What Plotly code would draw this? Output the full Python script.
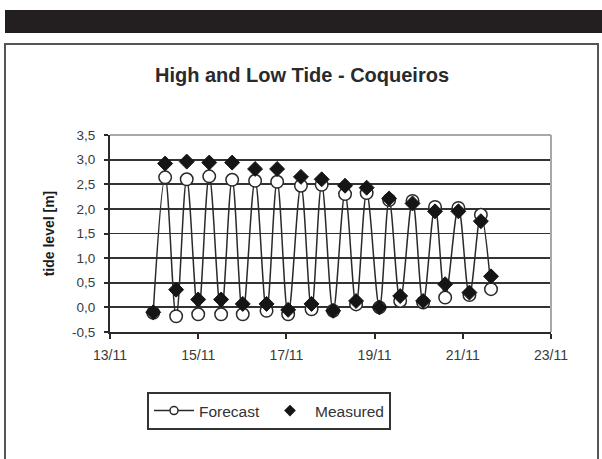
import plotly.graph_objects as go

# ---- data (days of November) ----
forecast_day = [13.98, 14.25, 14.50, 14.74, 15.00, 15.25, 15.52, 15.77, 16.01, 16.29,
                16.55, 16.79, 17.04, 17.33, 17.57, 17.80, 18.06, 18.33, 18.58, 18.82,
                19.11, 19.33, 19.58, 19.86, 20.10, 20.37, 20.60, 20.90, 21.15, 21.41, 21.64]
forecast_level = [-0.11, 2.64, -0.18, 2.60, -0.14, 2.66, -0.14, 2.59, -0.14, 2.57,
                  -0.07, 2.55, -0.14, 2.47, -0.04, 2.49, -0.07, 2.30, 0.06, 2.32,
                  0.00, 2.18, 0.13, 2.16, 0.10, 2.04, 0.20, 2.02, 0.25, 1.88, 0.37]
measured_day = [13.98, 14.25, 14.50, 14.74, 15.00, 15.25, 15.52, 15.77, 16.01, 16.29,
                16.55, 16.79, 17.04, 17.33, 17.57, 17.80, 18.06, 18.33, 18.58, 18.82,
                19.11, 19.33, 19.58, 19.86, 20.10, 20.37, 20.60, 20.90, 21.15, 21.41, 21.64]
measured_level = [-0.10, 2.92, 0.36, 2.96, 0.16, 2.94, 0.16, 2.94, 0.07, 2.81,
                  0.07, 2.81, -0.05, 2.65, 0.07, 2.60, -0.07, 2.47, 0.13, 2.43,
                  0.00, 2.21, 0.23, 2.11, 0.13, 1.95, 0.47, 1.95, 0.30, 1.75, 0.63]

x_tick_vals = [13, 15, 17, 19, 21, 23]
x_tick_text = ["13/11", "15/11", "17/11", "19/11", "21/11", "23/11"]
y_tick_vals = [-0.5, 0.0, 0.5, 1.0, 1.5, 2.0, 2.5, 3.0, 3.5]
y_tick_text = ["-0,5", "0,0", "0,5", "1,0", "1,5", "2,0", "2,5", "3,0", "3,5"]

W, H = 602, 459
L, R, T, B = 110, 51, 135, 127
pw, ph = W - L - R, H - T - B


def px(x):
    return (x - L) / pw


def py(y):
    return (H - B - y) / ph


FONT = "Liberation Sans, Arial, sans-serif"
DARK = "#2a2a2a"

fig = go.Figure()
fig.add_trace(go.Scatter(
    x=forecast_day, y=forecast_level, name="Forecast", showlegend=False,
    mode="lines+markers",
    line=dict(color=DARK, width=1.5, shape="spline", smoothing=1.0),
    marker=dict(symbol="circle", size=12.5, color="white",
                line=dict(color=DARK, width=1.5)),
))
fig.add_trace(go.Scatter(
    x=measured_day, y=measured_level, name="Measured", showlegend=False,
    mode="markers",
    marker=dict(symbol="diamond", size=11.5, color="#151515",
                line=dict(color="#151515", width=1)),
))
# legend entries (smaller symbols as in the reference legend)
fig.add_trace(go.Scatter(
    x=[None], y=[None], name="Forecast", mode="lines+markers",
    line=dict(color=DARK, width=1.5),
    marker=dict(symbol="circle", size=8, color="white", line=dict(color=DARK, width=1.5)),
))
fig.add_trace(go.Scatter(
    x=[None], y=[None], name="Measured", mode="markers",
    marker=dict(symbol="diamond", size=9, color="#151515"),
))

shapes = [
    dict(type="rect", xref="paper", yref="paper",
         x0=px(5), x1=px(603), y0=py(33), y1=py(10),
         fillcolor="#231f20", line=dict(width=0), layer="above"),
    dict(type="rect", xref="paper", yref="paper",
         x0=px(5), x1=px(598), y0=py(470), y1=py(44),
         fillcolor="rgba(0,0,0,0)", line=dict(color="#555555", width=2), layer="below"),
    dict(type="line", xref="paper", yref="paper", x0=0, x1=1, y0=1, y1=1,
         line=dict(color="#a8a8a8", width=2), layer="above"),
    dict(type="line", xref="paper", yref="paper", x0=1, x1=1, y0=0, y1=1,
         line=dict(color="#a8a8a8", width=2), layer="above"),
]

fig.update_layout(
    width=W, height=H,
    margin=dict(l=L, r=R, t=T, b=B),
    paper_bgcolor="white", plot_bgcolor="white",
    font=dict(family=FONT, color="#333333", size=13),
    title=dict(text="<b>High and Low Tide - Coqueiros</b>", x=px(302), xref="paper",
               xanchor="center", y=1 - 75 / H, yanchor="middle",
               font=dict(family=FONT, size=20, color="#2a2a2a")),
    xaxis=dict(range=[13, 23], tickvals=x_tick_vals, ticktext=x_tick_text,
               showgrid=False, zeroline=False, showline=True, linecolor=DARK, linewidth=2,
               ticks="outside", ticklen=5, tickwidth=2, tickcolor=DARK,
               ticklabelstandoff=4,
               tickfont=dict(size=14, color="#3a3a3a"), fixedrange=True),
    yaxis=dict(range=[-0.5, 3.5], tickvals=y_tick_vals, ticktext=y_tick_text,
               showgrid=True, gridcolor="#333333", gridwidth=1.8, zeroline=False,
               showline=True, linecolor=DARK, linewidth=2,
               ticks="outside", ticklen=4, tickwidth=2, tickcolor=DARK,
               ticklabelstandoff=6,
               tickfont=dict(size=13.5, color="#3a3a3a"),
               title=dict(text="<b>tide level [m]</b>", standoff=14,
                          font=dict(size=14, color="#1a1a1a")), fixedrange=True),
    showlegend=True,
    legend=dict(orientation="h", x=px(147), y=py(392), xanchor="left", yanchor="top",
                bordercolor="#333333", borderwidth=2, bgcolor="white",
                font=dict(size=15.5, color="#333333"), itemwidth=40),
    shapes=shapes,
)

fig.write_html("out.html", config={"displayModeBar": False, "staticPlot": True},
               post_script="document.body.style.margin='0';document.body.style.overflow='hidden';")
